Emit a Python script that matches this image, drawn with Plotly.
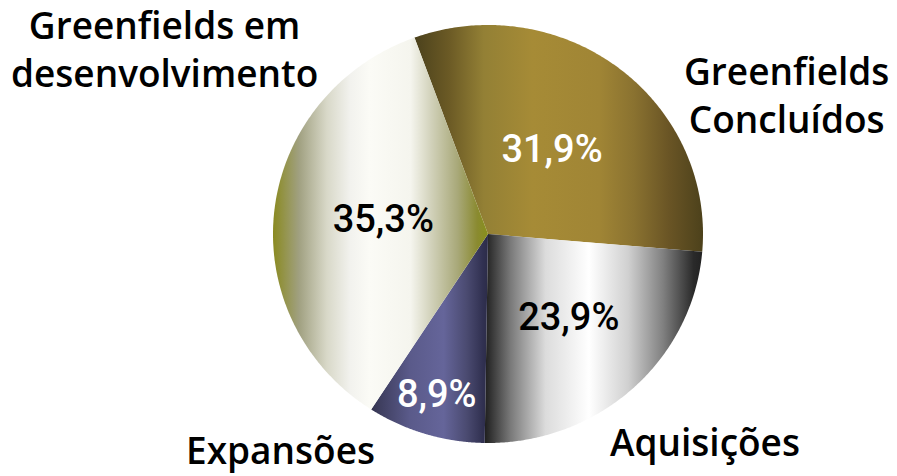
import numpy as np
import plotly.graph_objects as go

# Share of each segment (%)
categories = ["Greenfields Concluídos", "Aquisições", "Expansões", "Greenfields em desenvolvimento"]
shares = [31.9, 23.9, 8.9, 35.3]

# Horizontal gradient stops per slice (position across slice width, colour)
gradients = [
    [[0.0, "#4b411c"], [0.12, "#6b5a25"], [0.24, "#938035"], [0.41, "#a68b36"],
     [0.64, "#a08535"], [0.76, "#8a7230"], [0.88, "#6a5525"], [1.0, "#4c411b"]],
    [[0.0, "#1e1e1e"], [0.12, "#7a7a7a"], [0.28, "#dcdcdc"], [0.48, "#ffffff"],
     [0.66, "#d0d0d0"], [0.82, "#808080"], [0.96, "#2a2a2a"], [1.0, "#222222"]],
    [[0.0, "#34344f"], [0.08, "#3f3f60"], [0.33, "#5a5a8a"], [0.62, "#65659a"],
     [0.82, "#4a4a70"], [0.96, "#303050"], [1.0, "#2c2c48"]],
    [[0.0, "#8a8a20"], [0.12, "#a0a080"], [0.25, "#d8d8c8"], [0.36, "#f2f2ee"],
     [0.45, "#fbfbf6"], [0.64, "#f5f5ee"], [0.74, "#d0d0b8"], [0.86, "#a8a878"],
     [0.95, "#8a8a30"], [1.0, "#88901a"]],
]
label_colors = ["white", "black", "white", "black"]
label_radius = [0.49, 0.56, 0.82, 0.49]

W, H = 897, 476
cx, cy = 488, 234        # pie centre (px)
rx, ry = 215, 209        # radii (px)
start_angle = -20.0      # degrees clockwise from 12 o'clock

fig = go.Figure()

total = sum(shares)
a0 = start_angle
for name, val, grad, tcol, lr in zip(categories, shares, gradients, label_colors, label_radius):
    sweep = val / total * 360.0
    a1 = a0 + sweep
    th = np.radians(np.linspace(a0, a1, 200))
    xs = np.concatenate([[cx], cx + rx * np.sin(th), [cx]])
    ys = np.concatenate([[cy], cy - ry * np.cos(th), [cy]])
    fig.add_trace(go.Scatter(
        x=xs, y=ys, mode="none", fill="toself", name=name,
        fillgradient=dict(type="horizontal", colorscale=grad),
        hoverinfo="skip", showlegend=False,
    ))
    mid = np.radians((a0 + a1) / 2)
    fig.add_trace(go.Scatter(
        x=[cx + lr * rx * np.sin(mid)], y=[cy - lr * ry * np.cos(mid)],
        mode="text", text=[f"{val:.1f}%".replace(".", ",")],
        textfont=dict(family="Roboto", size=38, color=tcol, weight=500),
        textposition="middle center", hoverinfo="skip", showlegend=False,
    ))
    a0 = a1

label_font = dict(family="Open Sans", size=37, color="black", weight=600)
outer_labels = [
    ("Greenfields<br>Concluídos", 786, 94),
    ("Aquisições", 705, 441),
    ("Expansões", 280, 449),
    ("Greenfields em<br>desenvolvimento", 164, 48),
]
for txt, x, y in outer_labels:
    fig.add_annotation(x=x, y=y, text=txt, showarrow=False, font=label_font,
                       xanchor="center", yanchor="middle", align="center",
                       borderpad=0)

fig.update_layout(
    width=W, height=H,
    margin=dict(l=0, r=0, t=0, b=0),
    paper_bgcolor="white", plot_bgcolor="white",
    xaxis=dict(range=[0, W], visible=False, fixedrange=True),
    yaxis=dict(range=[H, 0], visible=False, fixedrange=True),
)

fig.write_html("out.html")
